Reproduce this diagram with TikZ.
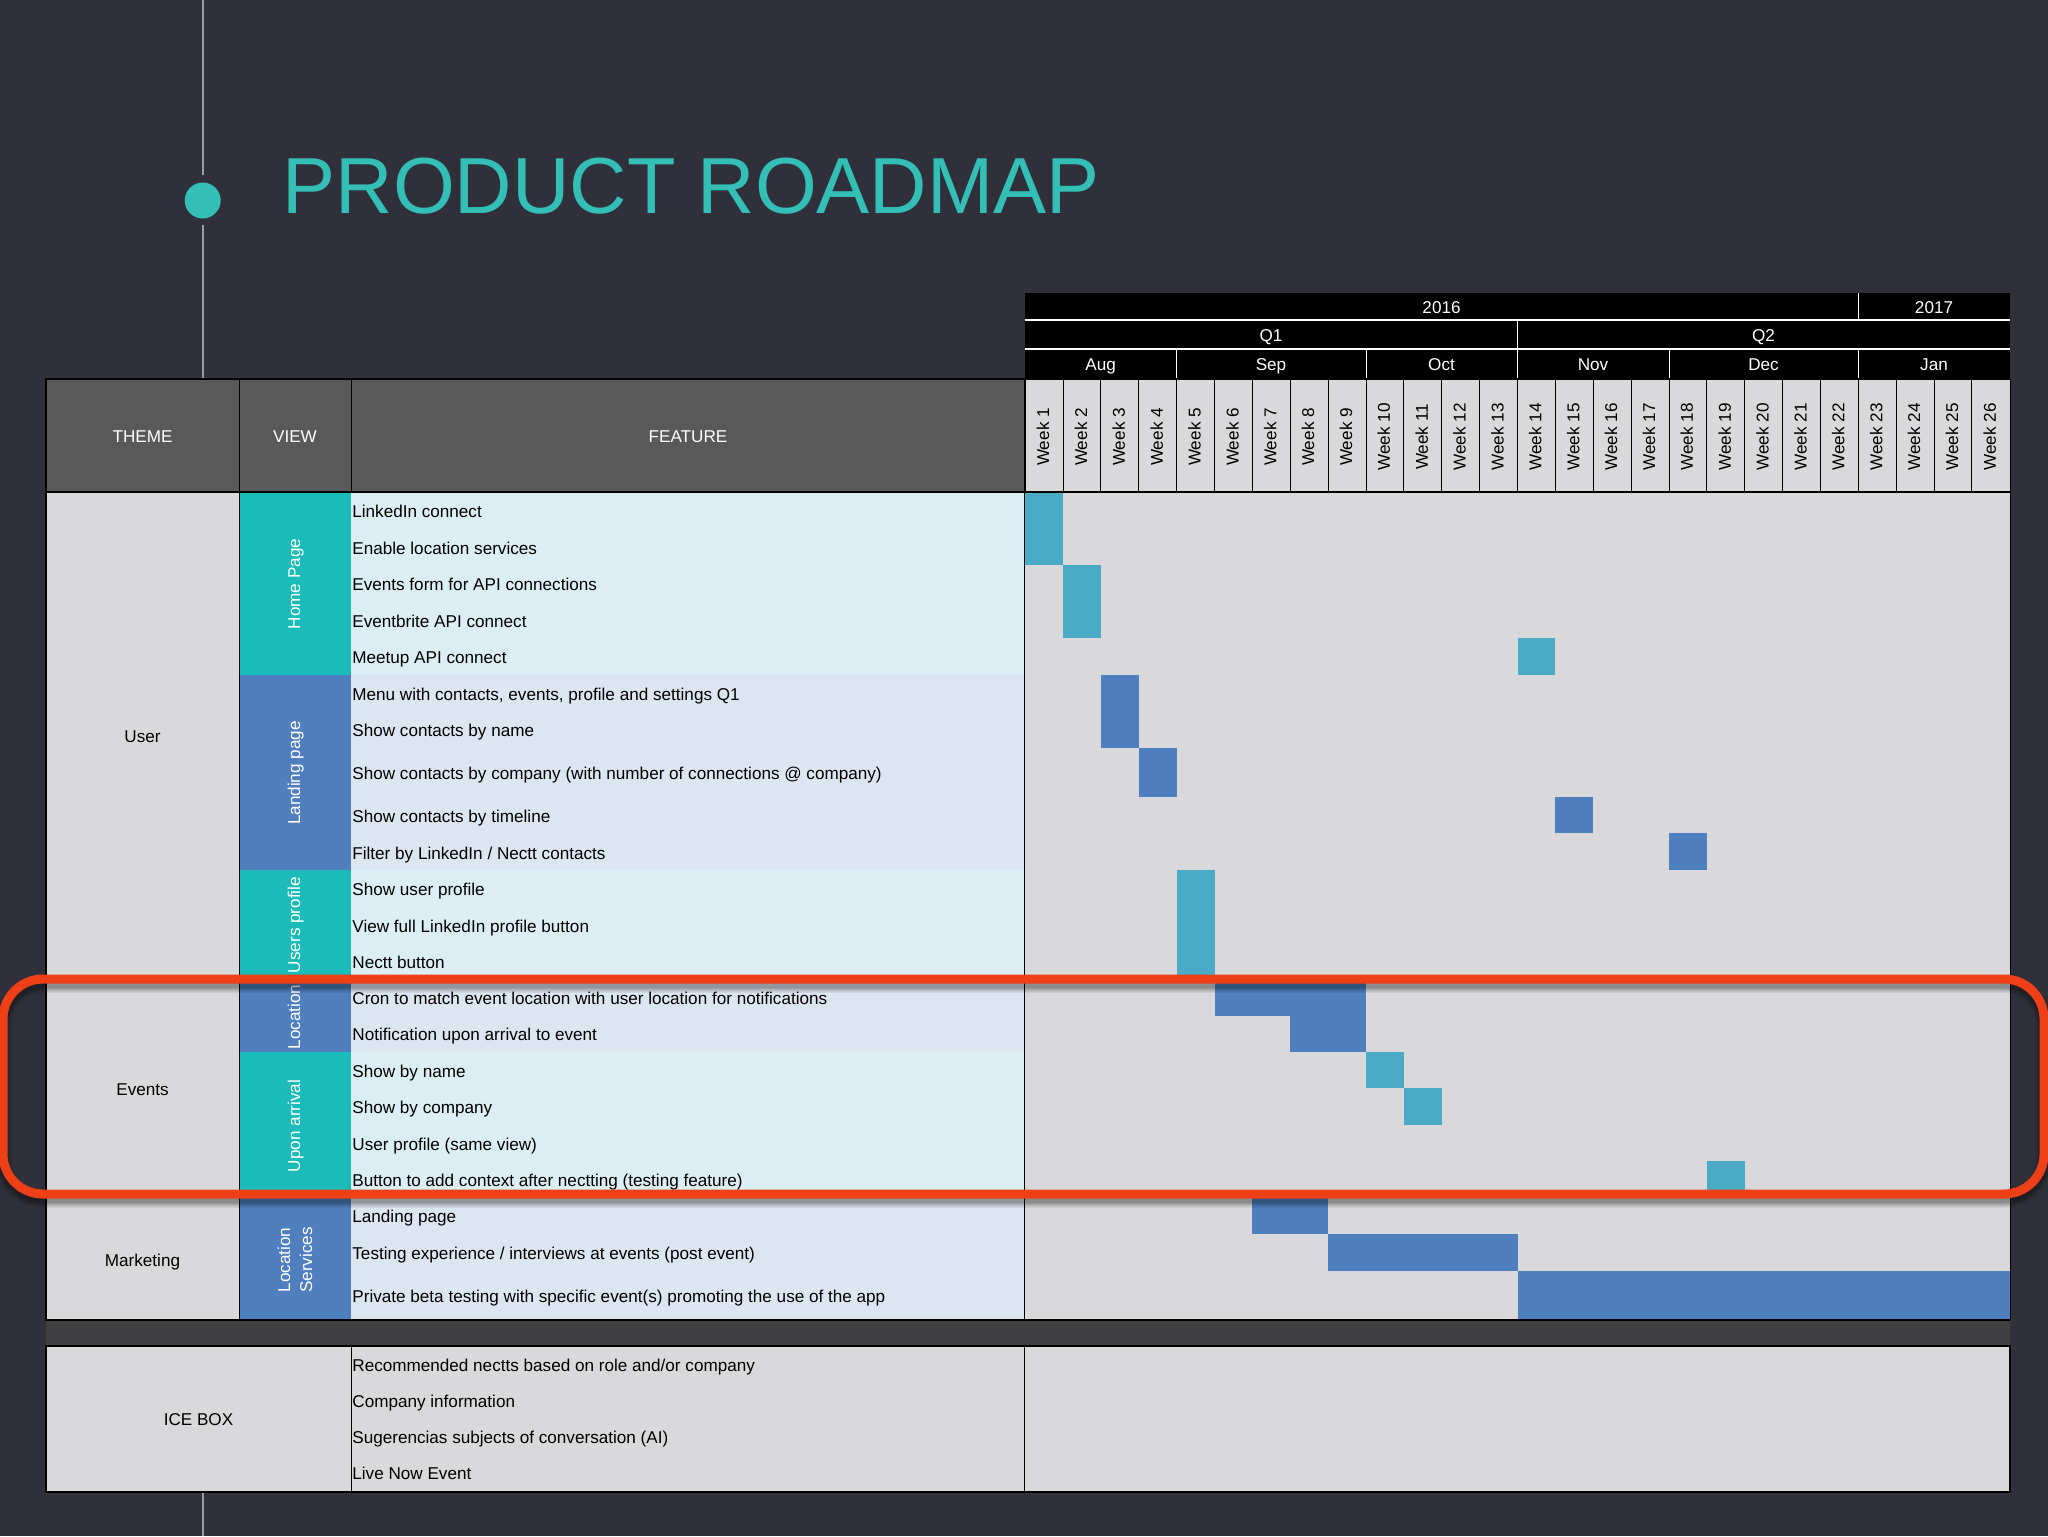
\documentclass[tikz,border=0pt]{standalone}
\usepackage{fontspec}
\setmainfont{Liberation Sans}
\definecolor{bgc}{HTML}{30303A}
\definecolor{tealc}{HTML}{1ABBB8}
\definecolor{titlec}{HTML}{33BFB5}
\definecolor{bluec}{HTML}{4F7FBF}
\definecolor{lbluec}{HTML}{4BABC6}
\definecolor{rowt}{HTML}{DBEEF3}
\definecolor{rowb}{HTML}{DCE6F0}
\definecolor{greyc}{HTML}{D9D9DB}
\definecolor{headc}{HTML}{595959}
\definecolor{gapc}{HTML}{404042}
\definecolor{linec}{HTML}{9C9CA4}
\definecolor{orangec}{HTML}{EE4017}
\tikzset{
  x=0.5pt,y=-0.5pt,
  txt/.style={font=\fontsize{8.56}{10}\selectfont,inner sep=0pt,text height=8.2pt,text depth=1.8pt},
  rtxt/.style={txt,text height=6.8pt},
  feat/.style={txt,anchor=west,text=black},
  hd/.style={txt,anchor=center,text=white},
  lab/.style={txt,anchor=center,text=black},
  vw/.style={rtxt,anchor=center,text=white,rotate=90},
  wk/.style={rtxt,anchor=center,text=black,rotate=90},
  tick/.style={draw=white,line width=0.7pt},
  rule/.style={draw=black,line width=1pt},
  thin/.style={draw=black,line width=0.5pt},
}
\newcommand{\wkx}[1]{\fpeval{1025.2+37.87*(#1)}}
\begin{document}
\begin{tikzpicture}
\useasboundingbox (0,0) rectangle (2048,1536);
\fill[bgc] (0,0) rectangle (2048,1536);
% spine
\coordinate (spA) at (202.7,0);
\coordinate (spB) at (202.7,175);
\coordinate (spC) at (202.7,225);
\coordinate (spD) at (202.7,379);
\coordinate (spE) at (202.7,1492);
\coordinate (spF) at (202.7,1536);
\draw[linec,line width=0.9pt] (spA) -- (spB);
\draw[linec,line width=0.9pt] (spC) -- (spD);
\draw[linec,line width=0.9pt] (spE) -- (spF);
\fill[titlec] (202.7,200.5) circle (18);
\node[anchor=west,inner sep=0pt,text=titlec,font=\fontsize{39.75}{44}\selectfont] (title) at (282.2,186) {PRODUCT ROADMAP};
% backgrounds
\fill[greyc] (46,492) rectangle (239,1320);
\fill[greyc] (1024.5,492) rectangle (2010,1320);
\fill[gapc] (46,1320) rectangle (2010,1346);
\fill[greyc] (46,1346) rectangle (2010,1492);
\fill[headc] (46,379) rectangle (1024.5,492);
\fill[greyc] (1024.5,379) rectangle (2010,492);
\fill[black] (1024.5,293) rectangle (2010,379);
% view and feature bands
\foreach \a/\b/\c/\d in {492/675/tealc/rowt,675/870/bluec/rowb,870/980/tealc/rowt,980/1052/bluec/rowb,1052/1198/tealc/rowt,1198/1320/bluec/rowb}{
  \fill[\c] (239,\a) rectangle (351,\b);
  \fill[\d] (351,\a) rectangle (1024.5,\b);
}
% bars: first week, last week, top, bottom, colour
\foreach \a/\b/\t/\u/\c in {0/1/492/565/lbluec,1/2/565/638/lbluec,13/14/638/675/lbluec,2/3/675/748/bluec,3/4/748/797/bluec,14/15/797/833/bluec,17/18/833/870/bluec,4/5/870/980/lbluec,5/9/980/1016/bluec,7/9/1016/1052/bluec,9/10/1052/1088/lbluec,10/11/1088/1125/lbluec,18/19/1161/1198/lbluec,6/8/1198/1234/bluec,8/13/1234/1271/bluec,13/26/1271/1320/bluec}{
  \fill[\c] ({\wkx{\a}},\t) rectangle ({\wkx{\b}},\u);
}
% year, quarter, month heads
\draw[tick] (1024.5,320) -- (2010,320);
\draw[tick] (1024.5,349) -- (2010,349);
\draw[tick,line width=0.5pt] ({\wkx{22}},293) -- ({\wkx{22}},320);
\draw[tick,line width=0.5pt] ({\wkx{13}},320) -- ({\wkx{13}},349);
\foreach \k in {4,9,13,17,22}{\draw[tick,line width=0.5pt] ({\wkx{\k}},349) -- ({\wkx{\k}},379);}
\node[hd] (y16) at (1441.5,307) {2016};
\node[hd] (y17) at (1934,307) {2017};
\node[hd] (q1) at (1271,335) {Q1};
\node[hd] (q2) at (1763.5,335) {Q2};
\node[hd] (maug) at (1100.7,364) {Aug};
\node[hd] (msep) at (1271,364) {Sep};
\node[hd] (moct) at (1441.5,364) {Oct};
\node[hd] (mnov) at (1593,364) {Nov};
\node[hd] (mdec) at (1763.5,364) {Dec};
\node[hd] (mjan) at (1934,364) {Jan};
% week heads
\foreach \k in {1,...,26}{
  \node[wk] (w\k) at ({\wkx{\k-0.5}},437) {Week \k};
}
\foreach \k in {1,...,25}{
  \draw[thin] ({\wkx{\k}},379) -- ({\wkx{\k}},492);
}
% column heads
\node[hd] (hTheme) at (142.5,436) {THEME};
\node[hd] (hView) at (295,436) {VIEW};
\node[hd] (hFeat) at (688,436) {FEATURE};
% themes
\node[lab] (tUser) at (142.5,736) {User};
\node[lab] (tEvents) at (142.5,1089) {Events};
\node[lab] (tMark) at (142.5,1260) {Marketing};
\node[lab] (tIce) at (198.5,1419) {ICE BOX};
% views
\node[vw] (vHome) at (295,584) {Home Page};
\node[vw] (vLand) at (295,773) {Landing page};
\node[vw] (vUser) at (295,925) {Users profile};
\node[vw] (vLoc) at (295,1017) {Location};
\node[vw] (vUpon) at (295,1126) {Upon arrival};
\node[vw,text height=,text depth=,align=center,font=\fontsize{8.56}{11}\selectfont] (vServ) at (295,1260) {Location\\Services};
% features
\foreach \i/\y/\t in {
 1/511/{LinkedIn connect},
 2/548/{Enable location services},
 3/584.5/{Events form for API connections},
 4/621/{Eventbrite API connect},
 5/657.5/{Meetup API connect},
 6/694/{Menu with contacts, events, profile and settings Q1},
 7/730.5/{Show contacts by name},
 8/773/{Show contacts by company (with number of connections @ company)},
 9/816/{Show contacts by timeline},
 10/853/{Filter by LinkedIn / Nectt contacts},
 11/889/{Show user profile},
 12/926/{View full LinkedIn profile button},
 13/962/{Nectt button},
 14/998.5/{Cron to match event location with user location for notifications},
 15/1034.5/{Notification upon arrival to event},
 16/1071/{Show by name},
 17/1107.5/{Show by company},
 18/1144/{User profile (same view)},
 19/1180.5/{Button to add context after nectting (testing feature)},
 20/1216.5/{Landing page},
 21/1253.5/{Testing experience / interviews at events (post event)},
 22/1296/{Private beta testing with specific event(s) promoting the use of the app},
 23/1365/{Recommended nectts based on role and/or company},
 24/1401/{Company information},
 25/1437.5/{Sugerencias subjects of conversation (AI)},
 26/1473.5/{Live Now Event}}{
  \node[feat] (f\i) at (352,\y) {\t};
}
% rules
\draw[rule] (46,379) rectangle (1024.5,492);
\draw[rule] (1024.5,379) -- (2010,379);
\draw[rule] (1024.5,492) -- (2010,492);
\draw[thin] (239,379) -- (239,492);
\draw[thin] (351,379) -- (351,492);
\draw[rule] (46,492) -- (46,1320) -- (2010,1320);
\draw[thin] (239,492) -- (239,1320);
\draw[thin] (1024.5,492) -- (1024.5,1320);
\draw[thin] (2010,379) -- (2010,1320);
\draw[rule] (46,1346) rectangle (2010,1492);
\draw[thin] (351,1346) -- (351,1492);
\draw[thin] (1024.5,1346) -- (1024.5,1492);
% highlight
\foreach \w/\o in {17/0.1,13/0.13,9/0.16}{
  \draw[black,opacity=\o,line width=\w*0.5pt,rounded corners=20pt] (3,984) rectangle (2044,1199);
}
\draw[orangec,line width=4.5pt,rounded corners=20pt] (3,979) rectangle (2044,1194);
\end{tikzpicture}
\end{document}
